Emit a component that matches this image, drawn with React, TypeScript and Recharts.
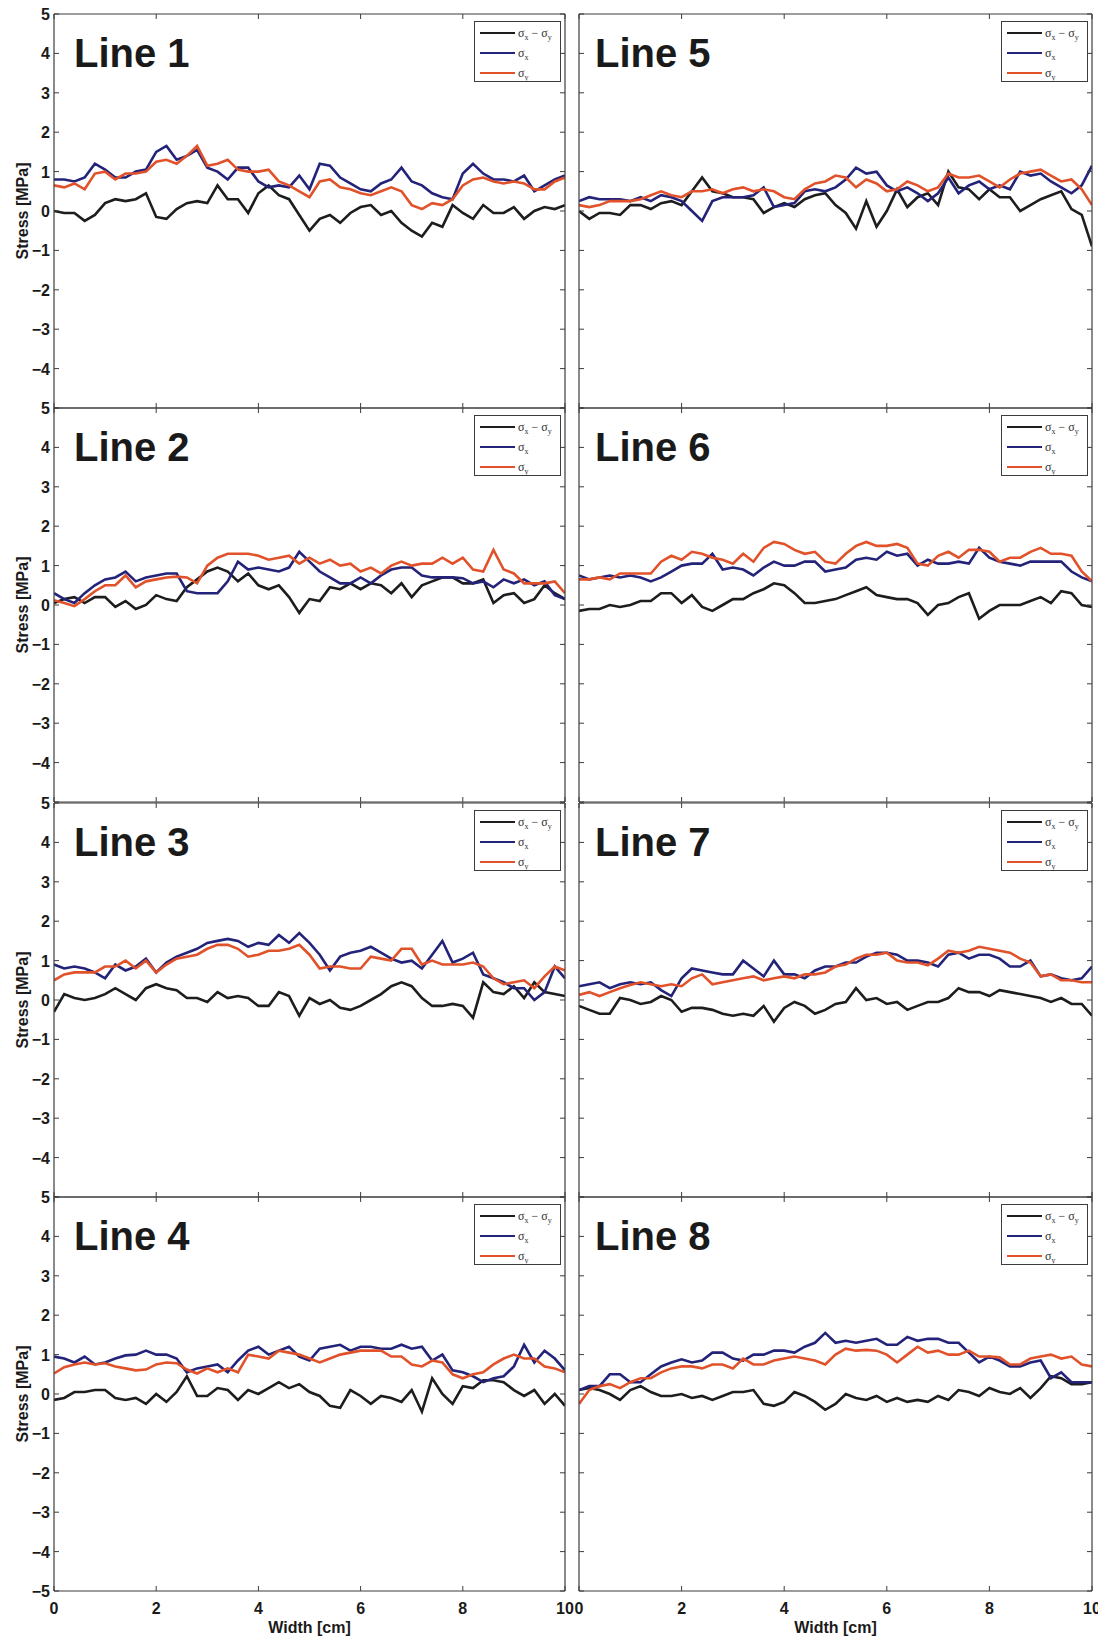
import { LineChart, Line, XAxis, YAxis, Legend, Label } from 'recharts'

// sample positions along the line, in cm
const widthCm = [
  0, 0.2, 0.4, 0.6, 0.8, 1, 1.2, 1.4, 1.6, 1.8, 2, 2.2, 2.4, 2.6, 2.8, 3, 3.2, 3.4, 3.6, 3.8, 4, 4.2,
  4.4, 4.6, 4.8, 5, 5.2, 5.4, 5.6, 5.8, 6, 6.2, 6.4, 6.6, 6.8, 7, 7.2, 7.4, 7.6, 7.8, 8, 8.2, 8.4,
  8.6, 8.8, 9, 9.2, 9.4, 9.6, 9.8, 10,
]
const xTicks = [0, 2, 4, 6, 8, 10]
const yTicks = [-5, -4, -3, -2, -1, 0, 1, 2, 3, 4, 5]
const panelTitles = ['Line 1', 'Line 2', 'Line 3', 'Line 4', 'Line 5', 'Line 6', 'Line 7', 'Line 8']
const legendOrder = ['diff', 'sx', 'sy']

// stress values [MPa]: diff = σx − σy, sx = σx, sy = σy
const line1Diff = [0, -0.05, -0.05, -0.25, -0.1, 0.2, 0.3, 0.25, 0.3, 0.45, -0.15, -0.2, 0.05, 0.2, 0.25, 0.2, 0.65, 0.3, 0.3, -0.05, 0.45, 0.65, 0.4, 0.3, -0.1, -0.5, -0.2, -0.1, -0.3, -0.05, 0.1, 0.15, -0.1, 0, -0.3, -0.5, -0.65, -0.3, -0.4, 0.15, -0.05, -0.2, 0.15, -0.05, -0.05, 0.1, -0.2, 0, 0.1, 0.05, 0.15]
const line1Sx = [0.8, 0.8, 0.75, 0.85, 1.2, 1.05, 0.85, 0.85, 1, 1.05, 1.5, 1.65, 1.3, 1.4, 1.55, 1.1, 1, 0.8, 1.1, 1.1, 0.75, 0.6, 0.65, 0.6, 0.9, 0.55, 1.2, 1.15, 0.85, 0.7, 0.55, 0.5, 0.7, 0.8, 1.1, 0.75, 0.65, 0.45, 0.35, 0.3, 0.95, 1.2, 0.95, 0.8, 0.8, 0.75, 0.9, 0.5, 0.65, 0.8, 0.9]
const line1Sy = [0.65, 0.6, 0.7, 0.55, 0.95, 1, 0.8, 0.95, 0.95, 1, 1.25, 1.3, 1.2, 1.4, 1.65, 1.15, 1.2, 1.3, 1.05, 1, 1, 1.05, 0.75, 0.65, 0.5, 0.35, 0.75, 0.8, 0.6, 0.55, 0.45, 0.4, 0.5, 0.6, 0.5, 0.15, 0.05, 0.2, 0.15, 0.3, 0.65, 0.8, 0.85, 0.75, 0.7, 0.75, 0.7, 0.55, 0.55, 0.75, 0.85]

const line2Diff = [0.05, 0.15, 0.2, 0.05, 0.2, 0.2, -0.05, 0.1, -0.1, 0, 0.25, 0.15, 0.1, 0.45, 0.65, 0.85, 0.95, 0.85, 0.6, 0.8, 0.5, 0.4, 0.5, 0.2, -0.2, 0.15, 0.1, 0.45, 0.4, 0.55, 0.4, 0.55, 0.5, 0.3, 0.55, 0.2, 0.5, 0.6, 0.7, 0.7, 0.55, 0.55, 0.65, 0.05, 0.25, 0.3, 0.05, 0.15, 0.5, 0.3, 0.15]
const line2Sx = [0.3, 0.15, 0.05, 0.3, 0.5, 0.65, 0.7, 0.85, 0.6, 0.7, 0.75, 0.8, 0.8, 0.35, 0.3, 0.3, 0.3, 0.6, 1.1, 0.9, 0.95, 0.9, 0.85, 0.95, 1.35, 1.1, 0.85, 0.7, 0.55, 0.55, 0.7, 0.55, 0.75, 0.9, 0.95, 0.95, 0.75, 0.7, 0.7, 0.7, 0.68, 0.55, 0.6, 0.45, 0.65, 0.55, 0.65, 0.5, 0.6, 0.25, 0.15]
const line2Sy = [0.12, 0.05, -0.03, 0.15, 0.35, 0.5, 0.5, 0.75, 0.45, 0.6, 0.65, 0.7, 0.72, 0.7, 0.55, 1, 1.2, 1.3, 1.3, 1.3, 1.25, 1.15, 1.2, 1.25, 1.05, 1.2, 1.05, 1.15, 1, 1.05, 0.85, 0.95, 0.8, 1, 1.1, 1, 1.05, 1.05, 1.2, 1.05, 1.2, 0.9, 0.85, 1.4, 0.9, 0.8, 0.55, 0.55, 0.55, 0.6, 0.3]

const line3Diff = [-0.3, 0.15, 0.05, 0, 0.05, 0.15, 0.3, 0.15, 0, 0.3, 0.4, 0.3, 0.25, 0.05, 0.05, -0.05, 0.2, 0.05, 0.1, 0.05, -0.15, -0.15, 0.2, 0.1, -0.4, 0.05, -0.1, 0, -0.2, -0.25, -0.15, 0, 0.15, 0.35, 0.45, 0.35, 0.05, -0.15, -0.15, -0.1, -0.15, -0.45, 0.45, 0.2, 0.15, 0.35, 0.05, 0.45, 0.2, 0.15, 0.1]
const line3Sx = [0.9, 0.8, 0.85, 0.8, 0.7, 0.55, 0.9, 0.75, 0.85, 1.05, 0.7, 0.95, 1.1, 1.2, 1.3, 1.45, 1.5, 1.55, 1.5, 1.35, 1.45, 1.4, 1.65, 1.45, 1.7, 1.45, 1.15, 0.75, 1.1, 1.2, 1.25, 1.35, 1.2, 1.05, 0.95, 1, 0.8, 1.15, 1.5, 0.95, 1.05, 1.2, 0.65, 0.55, 0.45, 0.3, 0.3, 0, 0.2, 0.85, 0.55]
const line3Sy = [0.5, 0.65, 0.7, 0.7, 0.7, 0.85, 0.85, 1, 0.8, 1, 0.7, 0.9, 1.05, 1.1, 1.15, 1.3, 1.4, 1.4, 1.3, 1.1, 1.15, 1.25, 1.25, 1.3, 1.4, 1.15, 0.8, 0.85, 0.85, 0.8, 0.8, 1.1, 1.05, 1, 1.3, 1.3, 0.9, 1, 0.9, 0.9, 0.9, 0.95, 0.85, 0.55, 0.4, 0.45, 0.5, 0.3, 0.6, 0.85, 0.75]

const line4Diff = [-0.15, -0.1, 0.05, 0.05, 0.1, 0.1, -0.1, -0.15, -0.1, -0.25, 0, -0.2, 0.05, 0.45, -0.05, -0.05, 0.15, 0.1, -0.15, 0.1, 0, 0.15, 0.3, 0.15, 0.25, 0.05, -0.05, -0.3, -0.35, 0.1, -0.05, -0.25, -0.05, -0.1, -0.2, 0.1, -0.45, 0.4, 0, -0.25, 0.2, 0.15, 0.35, 0.35, 0.3, 0.1, -0.05, 0.1, -0.25, 0, -0.3]
const line4Sx = [0.95, 0.9, 0.8, 0.95, 0.75, 0.8, 0.9, 0.98, 1, 1.1, 1, 1, 0.9, 0.55, 0.65, 0.7, 0.75, 0.55, 0.85, 1.1, 1.2, 1, 1.1, 1.2, 0.95, 0.85, 1.15, 1.2, 1.25, 1.1, 1.2, 1.2, 1.15, 1.15, 1.25, 1.15, 1.2, 0.85, 1, 0.6, 0.55, 0.45, 0.3, 0.4, 0.45, 0.7, 1.25, 0.8, 1.1, 0.9, 0.6]
const line4Sy = [0.52, 0.68, 0.75, 0.8, 0.75, 0.78, 0.7, 0.65, 0.6, 0.62, 0.75, 0.8, 0.78, 0.62, 0.52, 0.65, 0.55, 0.65, 0.55, 1, 0.95, 0.9, 1.1, 1.05, 1, 0.9, 0.8, 0.9, 1, 1.05, 1.1, 1.1, 1.1, 0.95, 0.95, 0.75, 0.7, 0.85, 0.8, 0.5, 0.4, 0.5, 0.55, 0.75, 0.9, 1, 0.9, 0.9, 0.7, 0.65, 0.55]

const line5Diff = [0, -0.2, -0.05, -0.05, -0.1, 0.15, 0.15, 0.05, 0.2, 0.25, 0.15, 0.5, 0.85, 0.5, 0.45, 0.35, 0.35, 0.3, -0.05, 0.1, 0.2, 0.1, 0.3, 0.4, 0.45, 0.15, -0.05, -0.45, 0.25, -0.4, 0, 0.55, 0.1, 0.35, 0.45, 0.15, 1, 0.6, 0.55, 0.3, 0.55, 0.35, 0.35, 0, 0.15, 0.3, 0.4, 0.5, 0.05, -0.1, -0.9]
const line5Sx = [0.25, 0.35, 0.3, 0.3, 0.3, 0.25, 0.35, 0.25, 0.4, 0.35, 0.25, 0, -0.25, 0.25, 0.35, 0.35, 0.35, 0.4, 0.6, 0.1, 0.15, 0.2, 0.5, 0.55, 0.5, 0.6, 0.8, 1.1, 0.95, 1, 0.65, 0.5, 0.6, 0.45, 0.25, 0.45, 0.85, 0.45, 0.65, 0.75, 0.55, 0.65, 0.55, 1, 0.9, 0.95, 0.75, 0.6, 0.45, 0.65, 1.15]
const line5Sy = [0.15, 0.1, 0.15, 0.25, 0.25, 0.25, 0.3, 0.4, 0.5, 0.4, 0.35, 0.5, 0.5, 0.55, 0.45, 0.55, 0.6, 0.5, 0.55, 0.5, 0.35, 0.3, 0.55, 0.7, 0.75, 0.9, 0.85, 0.6, 0.8, 0.7, 0.5, 0.55, 0.75, 0.65, 0.5, 0.6, 0.95, 0.85, 0.85, 0.9, 0.75, 0.6, 0.8, 0.95, 1, 1.05, 0.9, 0.75, 0.8, 0.55, 0.15]

const line6Diff = [-0.15, -0.1, -0.1, 0, -0.05, 0, 0.1, 0.1, 0.3, 0.3, 0.05, 0.25, -0.05, -0.15, 0, 0.15, 0.15, 0.3, 0.4, 0.55, 0.5, 0.3, 0.05, 0.05, 0.1, 0.15, 0.25, 0.35, 0.45, 0.25, 0.2, 0.15, 0.15, 0.05, -0.25, 0, 0.05, 0.2, 0.3, -0.35, -0.15, 0, 0, 0, 0.1, 0.2, 0.05, 0.35, 0.3, 0, -0.05]
const line6Sx = [0.75, 0.65, 0.7, 0.75, 0.7, 0.75, 0.7, 0.6, 0.7, 0.85, 1, 1.05, 1.05, 1.3, 0.9, 0.95, 0.9, 0.75, 0.95, 1.1, 1, 1, 1.1, 1.1, 0.85, 0.9, 0.95, 1.15, 1.2, 1.15, 1.35, 1.25, 1.3, 1, 1.15, 1.05, 1.05, 1.1, 1.05, 1.45, 1.2, 1.1, 1.05, 1, 1.1, 1.1, 1.1, 1.1, 0.85, 0.7, 0.6]
const line6Sy = [0.65, 0.65, 0.7, 0.65, 0.8, 0.8, 0.8, 0.8, 1.1, 1.25, 1.15, 1.35, 1.3, 1.2, 1.15, 1.05, 1.3, 1.1, 1.45, 1.6, 1.55, 1.4, 1.3, 1.35, 1.1, 1.05, 1.3, 1.5, 1.6, 1.5, 1.5, 1.55, 1.45, 1.05, 1, 1.25, 1.35, 1.2, 1.4, 1.4, 1.35, 1.1, 1.2, 1.2, 1.35, 1.45, 1.3, 1.3, 1.25, 0.85, 0.6]

const line7Diff = [-0.15, -0.25, -0.35, -0.35, 0.05, 0, -0.1, -0.05, 0.1, 0, -0.3, -0.2, -0.2, -0.25, -0.35, -0.4, -0.35, -0.4, -0.15, -0.55, -0.2, -0.05, -0.15, -0.35, -0.25, -0.1, -0.05, 0.3, 0, 0.05, -0.1, -0.05, -0.25, -0.15, -0.05, -0.05, 0.05, 0.3, 0.2, 0.2, 0.1, 0.25, 0.2, 0.15, 0.1, 0.05, -0.05, 0.05, -0.1, -0.1, -0.4]
const line7Sx = [0.35, 0.4, 0.45, 0.3, 0.4, 0.45, 0.4, 0.45, 0.25, 0.1, 0.55, 0.8, 0.75, 0.7, 0.65, 0.65, 1, 0.8, 0.6, 1, 0.65, 0.65, 0.55, 0.75, 0.85, 0.85, 0.95, 0.95, 1.1, 1.2, 1.2, 1.15, 1, 1, 0.95, 0.85, 1.15, 1.2, 1.05, 1.15, 1.15, 1.05, 0.85, 0.85, 1, 0.6, 0.65, 0.55, 0.5, 0.55, 0.85]
const line7Sy = [0.13, 0.2, 0.1, 0.2, 0.3, 0.38, 0.45, 0.4, 0.35, 0.4, 0.35, 0.55, 0.65, 0.4, 0.45, 0.5, 0.55, 0.6, 0.5, 0.55, 0.6, 0.55, 0.65, 0.65, 0.7, 0.85, 0.9, 1.05, 1.15, 1.15, 1.2, 1, 0.95, 0.95, 0.88, 1.05, 1.25, 1.2, 1.25, 1.35, 1.3, 1.25, 1.2, 1.05, 0.95, 0.6, 0.65, 0.5, 0.5, 0.45, 0.45]

const line8Diff = [0.1, 0.15, 0.1, 0, -0.15, 0.1, 0.2, 0.05, -0.05, -0.05, 0, -0.1, -0.05, -0.15, -0.05, 0.05, 0.05, 0.1, -0.25, -0.3, -0.2, 0.05, -0.05, -0.2, -0.4, -0.25, 0, -0.1, -0.15, -0.05, -0.2, -0.1, -0.2, -0.15, -0.2, -0.05, -0.15, 0.1, 0.05, -0.05, 0.15, 0.05, 0, 0.15, -0.1, 0.15, 0.45, 0.4, 0.25, 0.25, 0.3]
const line8Sx = [0.1, 0.2, 0.2, 0.5, 0.5, 0.3, 0.3, 0.5, 0.7, 0.8, 0.88, 0.8, 0.85, 1.05, 1.05, 0.9, 0.85, 1, 1, 1.1, 1.1, 1.05, 1.2, 1.3, 1.55, 1.3, 1.35, 1.3, 1.35, 1.4, 1.25, 1.25, 1.45, 1.35, 1.4, 1.4, 1.3, 1.3, 1.05, 0.8, 0.95, 0.85, 0.7, 0.7, 0.8, 0.85, 0.4, 0.55, 0.3, 0.3, 0.3]
const line8Sy = [-0.25, 0.1, 0.2, 0.25, 0.15, 0.3, 0.4, 0.4, 0.55, 0.65, 0.7, 0.7, 0.65, 0.75, 0.75, 0.65, 0.9, 0.75, 0.75, 0.85, 0.9, 0.95, 0.9, 0.85, 0.75, 1, 1.15, 1.1, 1.12, 1.1, 1, 0.8, 1, 1.2, 1.05, 1.1, 1, 1, 1.1, 0.95, 0.95, 0.93, 0.75, 0.75, 0.9, 0.95, 1, 0.9, 0.95, 0.75, 0.7]

const BLACK = '#1d1d1f'
const BLUE = '#23237a'
const ORANGE = '#e1522a'
const AXIS = '#3c3c3c'
const INK = '#1a1a1a'
const SANS = '"Liberation Sans", Arial, Helvetica, sans-serif'
const SERIF = '"Liberation Serif", "Times New Roman", serif'

const PLOT_H = 394
const ROW_TOPS = [14, 408, 803, 1197]
const COLS = [
  { chartLeft: 0, plotLeft: 54, plotW: 511, right: 12, titleDx: 20 },
  { chartLeft: 569, plotLeft: 579, plotW: 513, right: 6, titleDx: 16 },
]

// panels in reading order: left column Line 1-4, right column Line 5-8
const panels = [
  { diff: line1Diff, sx: line1Sx, sy: line1Sy },
  { diff: line2Diff, sx: line2Sx, sy: line2Sy },
  { diff: line3Diff, sx: line3Sx, sy: line3Sy },
  { diff: line4Diff, sx: line4Sx, sy: line4Sy },
  { diff: line5Diff, sx: line5Sx, sy: line5Sy },
  { diff: line6Diff, sx: line6Sx, sy: line6Sy },
  { diff: line7Diff, sx: line7Sx, sy: line7Sy },
  { diff: line8Diff, sx: line8Sx, sy: line8Sy },
]

const fmtY = (v: number) => (v < 0 ? `\u2212${Math.abs(v)}` : String(v))

function seriesLabel(key: string) {
  const sub = { fontSize: 8, verticalAlign: 'sub' as const, lineHeight: 0 }
  if (key === 'diff')
    return (
      <>
        σ<span style={sub}>x</span> − σ<span style={sub}>y</span>
      </>
    )
  return (
    <>
      σ<span style={sub}>{key === 'sx' ? 'x' : 'y'}</span>
    </>
  )
}

function LegendBox({ payload }: any) {
  const items = [...(payload || [])].sort(
    (a: any, b: any) => legendOrder.indexOf(String(a.dataKey)) - legendOrder.indexOf(String(b.dataKey)),
  )
  return (
    <div
      style={{
        width: 85,
        height: 59,
        border: `1px solid ${AXIS}`,
        background: '#fff',
        position: 'relative',
      }}
    >
      {items.map((e: any, i: number) => (
        <div
          key={String(e.dataKey)}
          style={{
            position: 'absolute',
            left: 5,
            top: 4 + i * 20,
            height: 14,
            display: 'flex',
            alignItems: 'center',
            whiteSpace: 'nowrap',
          }}
        >
          <span style={{ display: 'inline-block', width: 35, height: 2, background: e.color }} />
          <span style={{ marginLeft: 3, fontFamily: SERIF, fontSize: 12, color: '#333' }}>
            {seriesLabel(String(e.dataKey))}
          </span>
        </div>
      ))}
    </div>
  )
}

const tickText = { fontSize: 16, fontWeight: 'bold' as const, fill: INK, fontFamily: SANS }

function StressPanel({ index }: { index: number }) {
  const col = index < 4 ? 0 : 1
  const row = index % 4
  const c = COLS[col]
  const isBottom = row === 3
  const mt = 14
  const mb = isBottom ? 48 : 14
  const ml = c.plotLeft - c.chartLeft
  const width = ml + c.plotW + c.right
  const height = mt + PLOT_H + mb
  const p = panels[index]
  const rows = widthCm.map((x, i) => ({ x, diff: p.diff[i], sx: p.sx[i], sy: p.sy[i] }))

  const leftTick = (t: any) => {
    const v = t.payload.value
    const show = col === 0 && (v > -5 || isBottom)
    return (
      <g>
        <line x1={t.x} y1={t.y} x2={t.x + 5} y2={t.y} stroke={AXIS} />
        {show && (
          <text x={t.x - 4} y={t.y + 6} textAnchor="end" {...tickText}>
            {fmtY(v)}
          </text>
        )}
      </g>
    )
  }
  const rightTick = (t: any) => <line x1={t.x} y1={t.y} x2={t.x - 5} y2={t.y} stroke={AXIS} />
  const topTick = (t: any) => <line x1={t.x} y1={t.y} x2={t.x} y2={t.y + 5} stroke={AXIS} />
  const bottomTick = (t: any) => (
    <g>
      <line x1={t.x} y1={t.y} x2={t.x} y2={t.y - 5} stroke={AXIS} />
      {isBottom && (
        <text x={t.x} y={t.y + 23} textAnchor="middle" {...tickText}>
          {t.payload.value}
        </text>
      )}
    </g>
  )

  // axes get a 1px band so they are drawn; margins shrink by the same amount
  const axisProps = {
    type: 'number' as const,
    interval: 0 as const,
    allowDataOverflow: true,
    tickSize: 0,
    tickMargin: 0,
    tickLine: false,
    axisLine: { stroke: AXIS, strokeWidth: 1.2 },
  }

  return (
    <div style={{ position: 'absolute', left: c.chartLeft, top: ROW_TOPS[row] - mt, width, height }}>
      <LineChart
        width={width}
        height={height}
        data={rows}
        margin={{ top: mt - 1, right: c.right - 1, bottom: mb - 1, left: ml - 1 }}
      >
        <XAxis {...axisProps} xAxisId="b" dataKey="x" domain={[0, 10]} ticks={xTicks} height={1} tick={bottomTick}>
          {isBottom && (
            <Label
              content={(lp: any) => (
                <text
                  x={lp.viewBox.x + lp.viewBox.width / 2}
                  y={lp.viewBox.y + 42}
                  textAnchor="middle"
                  fontSize={16}
                  fontWeight="bold"
                  fill={INK}
                  fontFamily={SANS}
                >
                  Width [cm]
                </text>
              )}
            />
          )}
        </XAxis>
        <XAxis {...axisProps} xAxisId="t" orientation="top" dataKey="x" domain={[0, 10]} ticks={xTicks} height={1} tick={topTick} />
        <YAxis {...axisProps} yAxisId="l" domain={[-5, 5]} ticks={yTicks} width={1} tick={leftTick}>
          {col === 0 && (
            <Label
              content={(lp: any) => {
                const lx = lp.viewBox.x - 31
                const ly = lp.viewBox.y + lp.viewBox.height / 2
                return (
                  <text
                    x={lx}
                    y={ly}
                    transform={`rotate(-90 ${lx} ${ly})`}
                    textAnchor="middle"
                    dominantBaseline="central"
                    fontSize={16}
                    fontWeight="bold"
                    fill={INK}
                    fontFamily={SANS}
                  >
                    Stress [MPa]
                  </text>
                )
              }}
            />
          )}
        </YAxis>
        <YAxis {...axisProps} yAxisId="r" orientation="right" dataKey="diff" domain={[-5, 5]} ticks={yTicks} width={1} tick={rightTick} />
        <Legend
          layout="horizontal"
          verticalAlign="middle"
          align="center"
          content={<LegendBox />}
          wrapperStyle={{ left: ml + c.plotW - 91, top: mt + 7, width: 87, height: 61 }}
        />
        <Line xAxisId="b" yAxisId="l" type="linear" dataKey="diff" name="σx − σy" stroke={BLACK} strokeWidth={2.6} dot={false} isAnimationActive={false} />
        <Line xAxisId="b" yAxisId="l" type="linear" dataKey="sx" name="σx" stroke={BLUE} strokeWidth={2.6} dot={false} isAnimationActive={false} />
        <Line xAxisId="b" yAxisId="l" type="linear" dataKey="sy" name="σy" stroke={ORANGE} strokeWidth={2.6} dot={false} isAnimationActive={false} />
      </LineChart>
      <div
        style={{
          position: 'absolute',
          left: ml + c.titleDx,
          top: mt + 19,
          fontFamily: SANS,
          fontWeight: 'bold',
          fontSize: 40,
          lineHeight: 1,
          color: INK,
          whiteSpace: 'nowrap',
          pointerEvents: 'none',
        }}
      >
        {panelTitles[index]}
      </div>
    </div>
  )
}

export default function App() {
  return (
    <div
      style={{
        position: 'absolute',
        left: 0,
        top: 0,
        width: 1098,
        height: 1639,
        background: '#fff',
        overflow: 'hidden',
      }}
    >
      {panels.map((_, i) => (
        <StressPanel key={i} index={i} />
      ))}
    </div>
  )
}
